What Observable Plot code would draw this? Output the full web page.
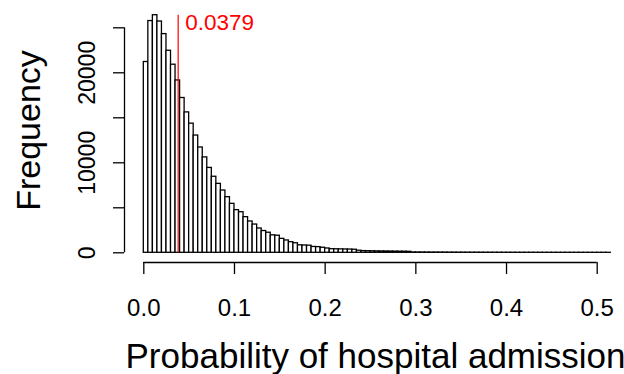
<!DOCTYPE html>
<html><head><meta charset="utf-8">
<script src="https://cdn.jsdelivr.net/npm/d3@7"></script>
<script src="https://cdn.jsdelivr.net/npm/@observablehq/plot@0.6"></script>
<style>body{margin:0;background:#fff}</style>
</head><body><div id="chart"></div>
<script>
// Histogram counts, one per bin of width 0.005 starting at 0
const counts = [
  21200, 25750, 26400, 25700, 24300, 22450, 20900, 19150, 17200, 15600,
  14350, 13030, 11700, 10600, 9430, 8450, 7660, 6920, 6180, 5440,
  4740, 4510, 3960, 3480, 3140, 2700, 2420, 2230, 1940, 1900,
  1550, 1370, 1180, 1060, 830, 810, 790, 650, 630, 560,
  480, 400, 390, 380, 370, 360, 340, 230, 190, 180,
  170, 160, 150, 145, 140, 130, 125, 120, 110,
  40, 38, 35, 33, 30, 28, 26, 24, 22, 20,
  19, 18, 16, 15, 14, 13, 12, 11, 10, 9,
  8, 8, 7, 6, 6, 5, 5, 4, 4, 3,
  3, 3, 2, 2, 2, 2, 1, 1, 1, 1,
  1, 1, 1, 1
];
const binWidth = 0.005;
const xTicks = [0, 0.1, 0.2, 0.3, 0.4, 0.5];
const yTicks = [0, 5000, 10000, 15000, 20000, 25000];
const yTickLabels = [0, 10000, 20000];
const markerValue = 0.0379;
const markerLabel = "0.0379";
const xTitle = "Probability of hospital admission";
const yTitle = "Frequency";

const bins = counts.map((c, i) => ({x1: i * binWidth, x2: (i + 1) * binWidth, count: c}));
const peak = d3.max(counts);
const xDomain = [-0.02129, 0.5301];
const yDomain = [-1078, 27478];

const chart = Plot.plot({
  width: 624,
  height: 374,
  marginLeft: 124,
  marginRight: 0,
  marginTop: 5,
  marginBottom: 112,
  style: {fontFamily: "'Liberation Sans', Arial, sans-serif", color: "black", background: "white", overflow: "visible"},
  x: {domain: xDomain},
  y: {domain: yDomain},
  marks: [
    Plot.rectY(bins, {x1: "x1", x2: "x2", y1: 0, y2: "count", fill: "white", stroke: "black", strokeWidth: 1.3}),
    Plot.ruleX([markerValue], {y1: 0, y2: peak, stroke: "red", strokeWidth: 1.2}),
    Plot.text([markerValue], {x: d => d, y: peak, text: () => markerLabel, textAnchor: "start", lineAnchor: "middle", dx: 7, dy: 8, fill: "red", fontSize: 22.5}),
    Plot.ruleX([xDomain[0]], {y1: 0, y2: yTicks[yTicks.length - 1], stroke: "black", strokeWidth: 1.3}),
    Plot.ruleY([yDomain[0]], {x1: xTicks[0], x2: xTicks[xTicks.length - 1], stroke: "black", strokeWidth: 1.3}),
    Plot.axisX(xTicks, {tickSize: 12, tickPadding: 24, tickFormat: d3.format(".1f"), fontSize: 24, strokeWidth: 1.3, label: null}),
    Plot.axisY(yTicks, {tickSize: 11, tickFormat: () => "", strokeWidth: 1.3, label: null}),
    Plot.text(yTickLabels, {y: d => d, frameAnchor: "left", text: d => String(d), rotate: -90, textAnchor: "middle", lineAnchor: "middle", dx: -36.5, fontSize: 23}),
    Plot.text([xTitle], {frameAnchor: "bottom", text: d => d, textAnchor: "middle", lineAnchor: "middle", dx: 1, dy: 94, fontSize: 35}),
    Plot.text([yTitle], {frameAnchor: "left", text: d => d, rotate: -90, textAnchor: "middle", lineAnchor: "middle", dx: -95.6, dy: -3.5, fontSize: 34})
  ]
});
document.getElementById("chart").appendChild(chart);
</script>
</body></html>
